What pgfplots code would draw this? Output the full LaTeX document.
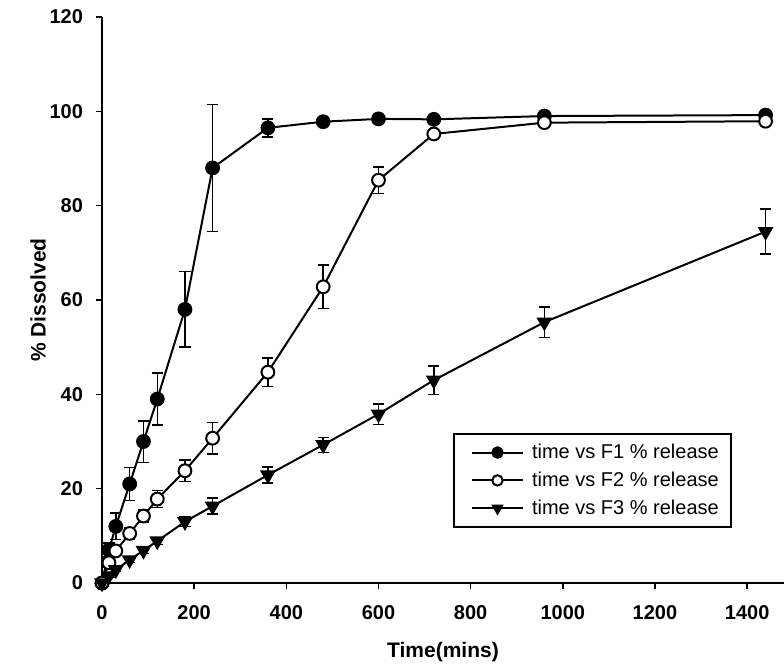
\documentclass[border=0pt]{standalone}
\usepackage{fontspec}
\setmainfont{Liberation Sans}
\usepackage{pgfplots}
\usepackage{pgfplotstable}
\pgfplotsset{compat=1.18}

% time (min), % dissolved, error
\pgfplotstableread{
t y e
0 0 0
15 7 1.5
30 12 2.8
60 21 3.5
90 30 4.4
120 39 5.5
180 58 8
240 88 13.5
360 96.5 1.9
480 97.8 0.6
600 98.4 0.4
720 98.3 0.3
960 99 0.3
1440 99.2 0.3
}\fone
\pgfplotstableread{
t y e
0 0 0
15 4.3 1
30 6.8 1
60 10.5 1.2
90 14.2 1.3
120 17.8 1.8
180 23.8 2.3
240 30.7 3.3
360 44.7 3
480 62.8 4.6
600 85.4 2.8
720 95.2 1
960 97.6 0.6
1440 97.9 0.5
}\ftwo
\pgfplotstableread{
t y e
0 0 0
15 1.5 0.3
30 2.8 0.4
60 4.9 0.5
90 6.9 0.6
120 8.9 0.7
180 13 1
240 16.3 1.7
360 22.9 1.7
480 29.3 1.6
600 35.8 2.2
720 43 3
960 55.3 3.2
1440 74.5 4.8
}\fthree

\begin{document}
\begin{tikzpicture}
  \begin{axis}[
    scale only axis,
    width=341pt, height=283pt,
    xmin=0, xmax=1480, ymin=0, ymax=120,
    axis lines*=left,
    axis line style={line width=1pt},
    xtick={0,200,...,1400},
    ytick={0,20,...,120},
    tick align=outside,
    major tick length=3pt,
    tick style={line width=0.8pt, black},
    /pgf/number format/assume math mode=true,
    /pgf/number format/1000 sep={},
    tick label style={font=\fontsize{10}{12}\selectfont\bfseries},
    xticklabel style={yshift=-4.5pt},
    yticklabel style={xshift=-3pt},
    xlabel={Time(mins)},
    ylabel={\% Dissolved},
    label style={font=\fontsize{10.5}{12}\selectfont\bfseries},
    xlabel style={at={(axis description cs:0.5,0)}, anchor=center, yshift=-34.5pt},
    ylabel style={at={(axis description cs:0,0.5)}, anchor=center, yshift=32pt},
    clip=false,
    legend style={
      at={(0.5147,0.265)}, anchor=north west,
      draw=black, line width=0.75pt,
      font=\fontsize{10}{12}\selectfont,
      row sep=1.2pt, inner xsep=4pt, inner ysep=3pt
    },
    legend cell align=left,
    legend image code/.code={
      \draw[mark repeat=2, mark phase=2, mark size=2.6pt, #1]
        plot coordinates {(0.16cm,0cm) (0.61cm,0cm) (1.06cm,0cm)};
      \path (0cm,0cm) (1.13cm,0cm);
    },
    every axis plot/.append style={line width=1pt},
    error bars/y dir=both,
    error bars/y explicit,
    error bars/error bar style={line width=0.75pt, black},
    error bars/error mark options={rotate=90, mark size=2.8pt, line width=0.75pt, black},
  ]
    \coordinate (sw) at (rel axis cs:0,0);
    \coordinate (ne) at (rel axis cs:1,1);
    \addplot[black, mark=*, mark size=3.2pt, mark options={fill=black}]
      table[x=t, y=y, y error=e] {\fone};
    \addlegendentry{time vs F1 \% release}
    \addplot[black, mark=*, mark size=3.2pt, mark options={fill=white}]
      table[x=t, y=y, y error=e] {\ftwo};
    \addlegendentry{time vs F2 \% release}
    \addplot[black, mark=triangle*, mark size=3.6pt, mark options={fill=black, rotate=180}]
      table[x=t, y=y, y error=e] {\fthree};
    \addlegendentry{time vs F3 \% release}
  \end{axis}
  \pgfresetboundingbox
  \useasboundingbox ([xshift=-51pt, yshift=-43pt]sw) rectangle ([yshift=8.5pt]ne);
\end{tikzpicture}
\end{document}
